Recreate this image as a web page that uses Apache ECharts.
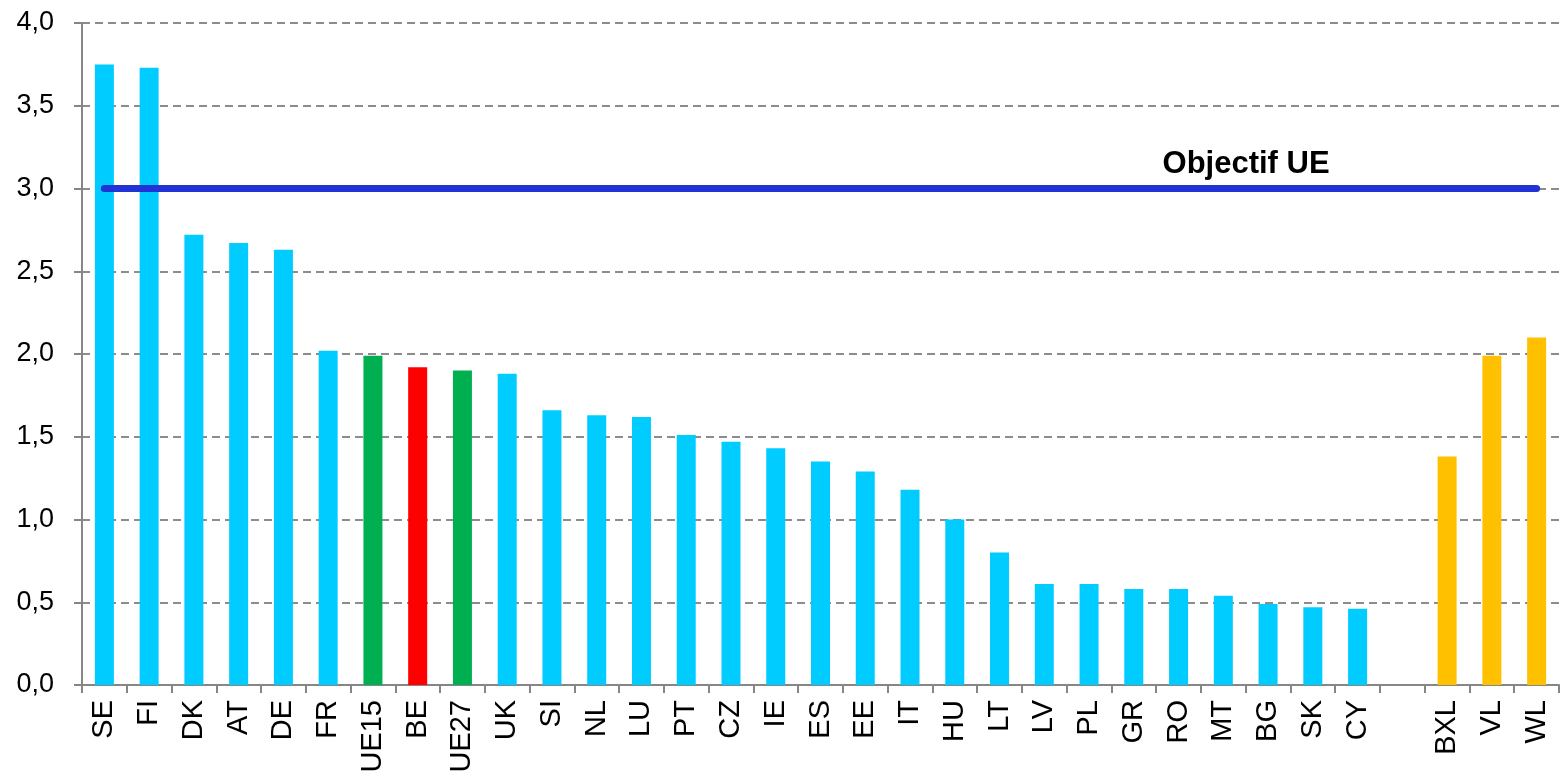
<!DOCTYPE html>
<html>
<head>
<meta charset="utf-8">
<script src="https://cdn.jsdelivr.net/npm/echarts@6/dist/echarts.min.js"></script>
<style>html,body{margin:0;padding:0;background:#fff}#c{width:1560px;height:779px}</style>
</head>
<body>
<div id="c"></div>
<script>
const categories = ['SE','FI','DK','AT','DE','FR','UE15','BE','UE27','UK','SI','NL','LU','PT','CZ','IE','ES','EE','IT','HU','LT','LV','PL','GR','RO','MT','BG','SK','CY','','BXL','VL','WL'];
const values = [3.75,3.73,2.72,2.67,2.63,2.02,1.99,1.92,1.90,1.88,1.66,1.63,1.62,1.51,1.47,1.43,1.35,1.29,1.18,1.00,0.80,0.61,0.61,0.58,0.58,0.54,0.49,0.47,0.46,null,1.38,1.99,2.10];
const aggregates = ['UE15','UE27'];
const belgium = ['BE'];
const regions = ['BXL','VL','WL'];
const targetValue = 3.0;
const targetLabel = 'Objectif UE';
const yTicks = [0,0.5,1,1.5,2,2.5,3,3.5,4];

function colorFor(c){
  if (aggregates.includes(c)) return '#00B050';
  if (belgium.includes(c)) return '#FF0000';
  if (regions.includes(c)) return '#FFC000';
  return '#00CCFF';
}
const barData = values.map((v,i)=>({value:v, itemStyle:{color:colorFor(categories[i])}}));
const lineData = categories.map((c,i)=> c==='BG' ? {value:targetValue, label:{show:true}} : targetValue);

const FF = 'Liberation Sans, Arial, sans-serif';
const chart = echarts.init(document.getElementById('c'), null, {renderer:'canvas'});
chart.setOption({
  animation:false,
  textStyle:{fontFamily:FF},
  grid:{left:82, right:1, top:23, bottom:94, containLabel:false},
  xAxis:{
    type:'category', data:categories,
    axisLine:{lineStyle:{color:'#868686', width:2}},
    axisTick:{show:true, length:8, lineStyle:{color:'#868686', width:2}},
    axisLabel:{rotate:90, fontSize:29, color:'#000', margin:15, interval:0, fontFamily:FF}
  },
  yAxis:{
    type:'value', min:yTicks[0], max:yTicks[yTicks.length-1], interval:0.5,
    axisLine:{show:true, lineStyle:{color:'#868686', width:2}},
    axisTick:{show:true, length:8, lineStyle:{color:'#868686', width:2}},
    axisLabel:{fontSize:27, color:'#000', margin:28, fontFamily:FF, formatter:v=>v.toFixed(1).replace('.',',')},
    splitLine:{show:true, lineStyle:{color:'#8c8c8c', width:2, type:[8,5]}}
  },
  series:[
    {type:'bar', data:barData, barWidth:19, silent:true},
    {type:'line', data:lineData, symbol:'circle', symbolSize:0, silent:true, z:5,
     lineStyle:{color:'#2233D6', width:7, cap:'round'},
     label:{show:false, position:'top', distance:9, offset:[-22,0], formatter:targetLabel,
            fontSize:31, fontWeight:'bold', color:'#000', fontFamily:FF}}
  ]
});
</script>
</body>
</html>
